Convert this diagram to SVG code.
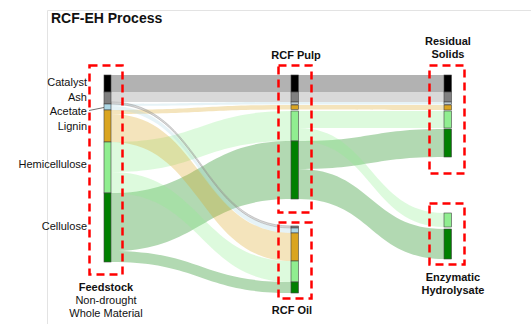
<svg xmlns="http://www.w3.org/2000/svg" width="531" height="324" viewBox="0 0 531 324">
<style>
text{font-family:"Liberation Sans",Arial,sans-serif;fill:#111}
.lab{font-size:11px;text-anchor:end}
.sub{font-size:11px;text-anchor:middle}
.hd{font-size:11px;font-weight:bold;text-anchor:middle}
.box{fill:none;stroke:#ff0000;stroke-width:2.5;stroke-dasharray:8 5}
.bar rect{stroke:#444;stroke-width:0.6}
.cat{fill:#000}.ash{fill:#808080}.ace{fill:#add8e6}.lig{fill:#daa520}.hem{fill:#90ee90}.cel{fill:#008000}
.f{fill-opacity:0.3;stroke:none}
</style>
<rect width="531" height="324" fill="#fff"/>
<path d="M47.5 324 V10.5 H531" fill="none" stroke="#e3e3e3" stroke-width="1"/>
<text x="51" y="23" style="font-size:14px;font-weight:bold">RCF-EH Process</text>

<g id="links">
  <!-- Feedstock to RCF Pulp -->
  <path class="f cat" d="M111 75 H291 V92 H111 Z"/>
  <path class="f ash" d="M111 92 H291 V102 H111 Z"/>
  <path class="f ace" d="M111 104 C201 104,201 102,291 102 L291 104.5 C201 104.5,201 106,111 106 Z"/>
  <path class="f lig" d="M111 110 C201 110,201 105,291 105 L291 109.5 C201 109.5,201 114,111 114 Z"/>
  <path class="f hem" d="M111 142 C201 142,201 111,291 111 L291 141 C201 141,201 172,111 172 Z"/>
  <path class="f cel" d="M111 193 C201 193,201 141,291 141 L291 199 C201 199,201 251,111 251 Z"/>
  <!-- Feedstock to RCF Oil -->
  <path class="f ash" d="M111 102 C201 102,201 226,291 226 L291 228 C201 228,201 104,111 104 Z" style="stroke:#9a9a9a;stroke-width:0.8;stroke-opacity:0.6"/>
  <path class="f ace" d="M111 106 C201 106,201 228,291 228 L291 233 C201 233,201 110,111 110 Z"/>
  <path class="f lig" d="M111 114 C201 114,201 233,291 233 L291 261 C201 261,201 142,111 142 Z"/>
  <path class="f hem" d="M111 172 C201 172,201 261,291 261 L291 282 C201 282,201 193,111 193 Z"/>
  <path class="f cel" d="M111 251 C201 251,201 282,291 282 L291 293 C201 293,201 262,111 262 Z"/>
  <!-- RCF Pulp to Residual Solids -->
  <path class="f cat" d="M298.5 75 H444 V92 H298.5 Z"/>
  <path class="f ash" d="M298.5 92 H444 V102 H298.5 Z"/>
  <path class="f ace" d="M298.5 102 H444 V104.5 H298.5 Z"/>
  <path class="f lig" d="M298.5 105 C371 105,371 105,444 105 L444 110 C371 110,371 109.5,298.5 109.5 Z"/>
  <path class="f hem" d="M298.5 111 H444 V128 H298.5 Z"/>
  <path class="f cel" d="M298.5 141 C371 141,371 129,444 129 L444 157 C371 157,371 169,298.5 169 Z"/>
  <!-- RCF Pulp to Enzymatic Hydrolysate -->
  <path class="f hem" d="M298.5 128 C371 128,371 213,444 213 L444 227 C371 227,371 141,298.5 141 Z"/>
  <path class="f cel" d="M298.5 169 C371 169,371 229,444 229 L444 259 C371 259,371 199,298.5 199 Z"/>
</g>

<g id="feedstock">
  <g class="bar">
    <rect class="cat" x="104" y="75" width="7" height="17"/>
    <rect class="ash" x="104" y="92" width="7" height="12"/>
    <rect class="ace" x="104" y="104" width="7" height="6"/>
    <rect class="lig" x="104" y="110" width="7" height="32"/>
    <rect class="hem" x="104" y="142" width="7" height="51"/>
    <rect class="cel" x="104" y="193" width="7" height="69"/>
  </g>
  <rect class="box" x="89.5" y="65.5" width="33" height="209"/>
  <text class="lab" x="87" y="85.5">Catalyst</text>
  <text class="lab" x="87" y="101">Ash</text>
  <text class="lab" x="87" y="115">Acetate</text>
  <line x1="89" y1="110.5" x2="104" y2="107.5" stroke="#333" stroke-width="0.7"/>
  <text class="lab" x="87" y="130">Lignin</text>
  <text class="lab" x="87" y="168">Hemicellulose</text>
  <text class="lab" x="87" y="230">Cellulose</text>
  <text class="hd" x="106" y="291">Feedstock</text>
  <text class="sub" x="106" y="304">Non-drought</text>
  <text class="sub" x="106" y="317">Whole Material</text>
</g>

<g id="rcf-pulp">
  <g class="bar">
    <rect class="cat" x="291" y="75" width="7.5" height="17"/>
    <rect class="ash" x="291" y="92" width="7.5" height="10"/>
    <rect class="ace" x="291" y="102" width="7.5" height="2.5" style="fill:#b9c9cf"/>
    <rect class="lig" x="291" y="105" width="7.5" height="4.5"/>
    <rect class="hem" x="291" y="111" width="7.5" height="30"/>
    <rect class="cel" x="291" y="141" width="7.5" height="58"/>
  </g>
  <rect class="box" x="278.5" y="65.5" width="33" height="147"/>
  <text class="hd" x="296" y="59">RCF Pulp</text>
</g>

<g id="rcf-oil">
  <g class="bar">
    <rect class="ash" x="291" y="226" width="7.5" height="2"/>
    <rect class="ace" x="291" y="228" width="7.5" height="5"/>
    <rect class="lig" x="291" y="233" width="7.5" height="28"/>
    <rect class="hem" x="291" y="261" width="7.5" height="21"/>
    <rect class="cel" x="291" y="282" width="7.5" height="11"/>
  </g>
  <rect class="box" x="278.5" y="222.5" width="33" height="76"/>
  <text class="hd" x="292" y="314">RCF Oil</text>
</g>

<g id="residual-solids">
  <g class="bar">
    <rect class="cat" x="444" y="75" width="7.5" height="17"/>
    <rect class="ash" x="444" y="92" width="7.5" height="10"/>
    <rect class="ace" x="444" y="102" width="7.5" height="2.5" style="fill:#b9c9cf"/>
    <rect class="lig" x="444" y="105" width="7.5" height="5"/>
    <rect class="hem" x="444" y="111" width="7.5" height="17"/>
    <rect class="cel" x="444" y="129" width="7.5" height="28"/>
  </g>
  <rect class="box" x="429.5" y="65.5" width="35" height="108"/>
  <text class="hd" x="448" y="45">Residual</text>
  <text class="hd" x="448" y="58">Solids</text>
</g>

<g id="enzymatic-hydrolysate">
  <g class="bar">
    <rect class="hem" x="444" y="213" width="7.5" height="14"/>
    <rect class="cel" x="444" y="229" width="7.5" height="30"/>
  </g>
  <rect class="box" x="429.5" y="203.5" width="35" height="61"/>
  <text class="hd" x="453" y="281">Enzymatic</text>
  <text class="hd" x="453" y="294">Hydrolysate</text>
</g>
</svg>
